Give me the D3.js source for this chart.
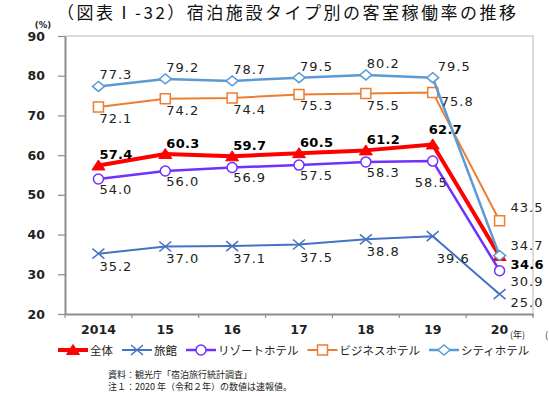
<!DOCTYPE html>
<html>
<head>
<meta charset="utf-8">
<script src="https://cdn.jsdelivr.net/npm/d3@7.9.0/dist/d3.min.js"></script>
<style>
  html, body { margin: 0; padding: 0; background: #fff; }
  svg { display: block; font-family: "DejaVu Sans", Verdana, sans-serif; }
  .jp { font-family: "Noto Sans CJK JP", "Noto Sans", sans-serif; }
</style>
</head>
<body>
<svg id="chart" width="549" height="396"></svg>
<script>
// chart data
const years = ["2014", "15", "16", "17", "18", "19", "20"];
const seriesNames = ["全体", "旅館", "リゾートホテル", "ビジネスホテル", "シティホテル"];
const allTypes = [57.4, 60.3, 59.7, 60.5, 61.2, 62.7, 34.6];
const ryokan = [35.2, 37.0, 37.1, 37.5, 38.8, 39.6, 25.0];
const resort = [54.0, 56.0, 56.9, 57.5, 58.3, 58.5, 30.9];
const business = [72.1, 74.2, 74.4, 75.3, 75.5, 75.8, 43.5];
const city = [77.3, 79.2, 78.7, 79.5, 80.2, 79.5, 34.7];
const yTicks = [20, 30, 40, 50, 60, 70, 80, 90];

// look of each series (drawn in this order, like the source chart)
const styles = [
  { values: allTypes, color: "#ff0000", width: 4,   shape: "triangle", bold: true,  dy: -6 },
  { values: ryokan,   color: "#4472c4", width: 2,   shape: "cross",    bold: false, dy: 17 },
  { values: resort,   color: "#7030ff", width: 2.5, shape: "circle",   bold: false, dy: 15 },
  { values: business, color: "#ed7d31", width: 2,   shape: "square",   bold: false, dy: 16 },
  { values: city,     color: "#5b9bd5", width: 2.5, shape: "diamond",  bold: false, dy: -7 }
];
// label nudges where the source moved them off the default spot
const labelShift = [
  { 5: [-4, -10], 6: [11, 13] },
  { 5: [4, 27],   6: [11, 13] },
  { 5: [-18, 26], 6: [11, 15] },
  { 5: [8, 14],   6: [11, -9] },
  { 5: [5, -7],   6: [11, -6] }
];

const svg = d3.select("#chart");
const mLeft = 65, mRight = 533, mTop = 36, mBottom = 314;

const x = d3.scaleBand().domain(years).range([mLeft, mRight]);
const y = d3.scaleLinear().domain([20, 90]).range([mBottom, mTop]);
const cx = d => x(d) + x.bandwidth() / 2;

// marker shapes
function shapePath(shape) {
  switch (shape) {
    case "triangle": return "M0,-5.5L6.5,4.5L-6.5,4.5Z";
    case "cross":    return "M-6,-5L6,5M-6,5L6,-5";
    case "circle":   return d3.symbol(d3.symbolCircle, Math.PI * 25)();
    case "square":   return "M-5,-5H5V5H-5Z";
    case "diamond":  return "M0,-5L6,0L0,5L-6,0Z";
  }
}
function markerFill(s) {
  if (s.shape === "triangle") return s.color;
  if (s.shape === "cross") return "none";
  return "#fff";
}

// title
svg.append("text")
  .attr("class", "jp")
  .attr("x", 57).attr("y", 19)
  .attr("font-size", 17)
  .attr("textLength", 459).attr("lengthAdjust", "spacing")
  .attr("fill", "#111")
  .text("（図表Ⅰ-32）宿泊施設タイプ別の客室稼働率の推移");

// plot border (top + right)
svg.append("path")
  .attr("d", `M${mLeft},${mTop}H${mRight}V${mBottom + 3}`)
  .attr("fill", "none").attr("stroke", "#cfcfcf").attr("stroke-width", 1.5);

// y axis
const yAxis = svg.append("g")
  .attr("transform", `translate(${mLeft},0)`)
  .call(d3.axisLeft(y).tickValues(yTicks).tickSize(7).tickPadding(13).tickSizeOuter(0));
yAxis.select(".domain").attr("stroke", "#8c8c8c").attr("stroke-width", 2);
yAxis.selectAll(".tick line").attr("stroke", "#8c8c8c").attr("stroke-width", 1.2);
yAxis.selectAll(".tick text")
  .attr("font-size", 12.5).attr("font-weight", "bold").attr("fill", "#222")
  .attr("font-family", "DejaVu Sans");

svg.append("text")
  .attr("x", 43).attr("y", 28)
  .attr("text-anchor", "middle")
  .attr("font-size", 8.5).attr("font-weight", "bold").attr("fill", "#222")
  .text("(%)");

// x axis: labels at centers, ticks at band edges
const xAxis = svg.append("g")
  .attr("transform", `translate(0,${mBottom})`)
  .call(d3.axisBottom(x).tickSize(0).tickPadding(11).tickSizeOuter(0));
xAxis.select(".domain").attr("stroke", "#8c8c8c").attr("stroke-width", 2);
xAxis.selectAll(".tick text")
  .attr("font-size", 12.5).attr("font-weight", "bold").attr("fill", "#222")
  .attr("font-family", "DejaVu Sans");
xAxis.selectAll(".edge")
  .data(d3.range(years.length + 1))
  .join("line")
  .attr("x1", i => mLeft + i * x.step()).attr("x2", i => mLeft + i * x.step())
  .attr("y1", 0).attr("y2", 4)
  .attr("stroke", "#8c8c8c").attr("stroke-width", 1.2);

svg.append("text")
  .attr("class", "jp")
  .attr("x", 510).attr("y", 338)
  .attr("font-size", 9).attr("fill", "#222")
  .text("(年)");
svg.append("text")
  .attr("class", "jp")
  .attr("x", 545).attr("y", 338)
  .attr("font-size", 9).attr("fill", "#222")
  .text("(");

// lines + markers
const line = d3.line().x((v, i) => cx(years[i])).y(v => y(v));

styles.forEach(s => {
  const g = svg.append("g");
  g.append("path")
    .datum(s.values)
    .attr("d", line)
    .attr("fill", "none")
    .attr("stroke", s.color)
    .attr("stroke-width", s.width)
    .attr("stroke-linejoin", "round");
  g.selectAll(".m")
    .data(s.values)
    .join("path")
    .attr("transform", (v, i) => `translate(${cx(years[i])},${y(v)})`)
    .attr("d", shapePath(s.shape))
    .attr("fill", markerFill(s))
    .attr("stroke", s.color)
    .attr("stroke-width", s.shape === "triangle" ? 1 : 1.5);
});

// value labels
styles.forEach((s, k) => {
  svg.append("g").selectAll("text")
    .data(s.values)
    .join("text")
    .attr("x", (v, i) => cx(years[i]) + (labelShift[k][i] ? labelShift[k][i][0] : 1))
    .attr("y", (v, i) => y(v) + (labelShift[k][i] ? labelShift[k][i][1] : s.dy))
    .attr("font-size", 13)
    .attr("font-weight", s.bold ? "bold" : "normal")
    .attr("letter-spacing", s.bold ? 0.3 : 1)
    .attr("fill", s.bold ? "#000" : "#222")
    .text(v => v.toFixed(1));
});

// legend
const legend = svg.append("g").attr("transform", "translate(0,350)");
let lx = 58;
styles.forEach((s, k) => {
  const g = legend.append("g").attr("transform", `translate(${lx},0)`);
  g.append("line")
    .attr("x1", 0).attr("x2", 30).attr("y1", 0).attr("y2", 0)
    .attr("stroke", s.color).attr("stroke-width", s.width);
  g.append("path")
    .attr("transform", "translate(15,0)")
    .attr("d", shapePath(s.shape))
    .attr("fill", markerFill(s))
    .attr("stroke", s.color)
    .attr("stroke-width", s.shape === "triangle" ? 1 : 1.5);
  const t = g.append("text")
    .attr("class", "jp")
    .attr("x", 32).attr("y", 4.5)
    .attr("font-size", 11.5)
    .attr("fill", "#222")
    .text(seriesNames[k]);
  lx += 32 + t.node().getComputedTextLength() + 9;
});

// source notes
svg.append("text")
  .attr("class", "jp")
  .attr("x", 108).attr("y", 378)
  .attr("font-size", 9).attr("fill", "#222")
  .text("資料：観光庁「宿泊旅行統計調査」");
svg.append("text")
  .attr("class", "jp")
  .attr("x", 108).attr("y", 390)
  .attr("font-size", 9).attr("fill", "#222")
  .text("注１：2020 年（令和２年）の数値は速報値。");
</script>
</body>
</html>
